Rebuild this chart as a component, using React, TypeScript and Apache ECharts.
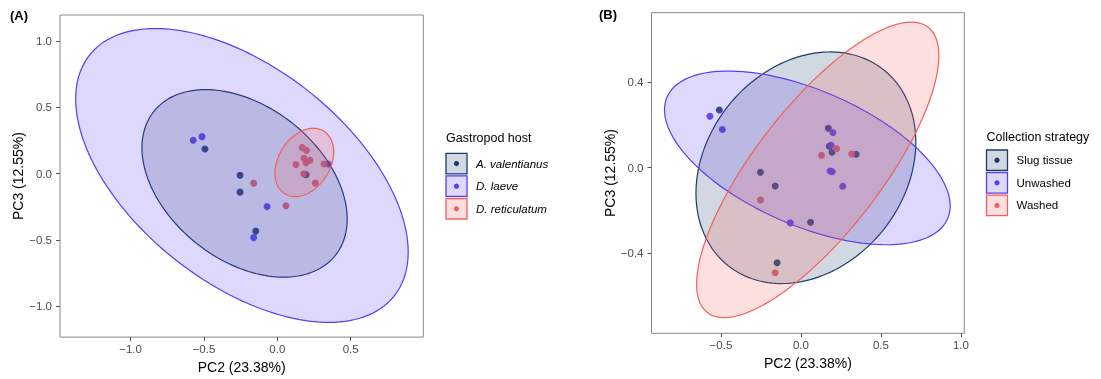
import React, { useEffect, useRef } from "react";
import * as echarts from "echarts";

const panelLabels = ["(A)", "(B)"];
const xTitle = "PC2 (23.38%)";
const yTitle = "PC3 (12.55%)";

const hostTitle = "Gastropod host";
const strategyTitle = "Collection strategy";
const hostGroups = ["A. valentianus", "D. laeve", "D. reticulatum"];
const strategyGroups = ["Slug tissue", "Unwashed", "Washed"];
const groupColors = ["#1B3A6B", "#5A3CF2", "#F2605C"];
const groupFills = ["rgba(27,58,107,0.2)", "rgba(90,60,242,0.2)", "rgba(242,96,92,0.2)"];

const hostTicksX = [-1.0, -0.5, 0.0, 0.5];
const hostTicksY = [-1.0, -0.5, 0.0, 0.5, 1.0];
const strategyTicksX = [-0.5, 0.0, 0.5, 1.0];
const strategyTicksY = [-0.4, 0.0, 0.4];

// Panel A points: [PC2, PC3]
const hostValentianus = [
  [-0.493, 0.186], [-0.254, -0.012], [-0.254, -0.14], [-0.147, -0.434], [0.196, -0.008],
];
const hostLaeve = [
  [-0.573, 0.252], [-0.513, 0.279], [-0.07, -0.249], [-0.161, -0.483], [0.348, 0.073],
];
const hostReticulatum = [
  [-0.161, -0.072], [0.059, -0.243], [0.127, 0.068], [0.17, 0.196], [0.2, 0.174],
  [0.182, 0.116], [0.196, 0.083], [0.223, 0.101], [0.18, -0.002], [0.259, -0.072], [0.318, 0.073],
];

// Panel B points: [PC2, PC3]
const strategySlug = [
  [-0.51, 0.268], [0.171, 0.183], [0.194, 0.071], [0.177, 0.099], [0.345, 0.062],
  [-0.253, -0.022], [-0.161, -0.086], [0.06, -0.255], [-0.149, -0.444],
];
const strategyUnwashed = [
  [-0.569, 0.239], [-0.491, 0.177], [0.2, 0.163], [0.188, 0.104], [0.182, -0.016],
  [0.196, -0.02], [0.261, -0.087], [-0.067, -0.258],
];
const strategyWashed = [
  [0.129, 0.057], [0.223, 0.088], [0.317, 0.063], [-0.253, -0.151], [-0.161, -0.491],
];

// Ellipses: [centerX, centerY, varX, varY, covXY, groupIndex]
const hostEllipses = [
  [-0.223, -0.074, 0.489, 0.501, -0.188, 0],
  [-0.241, -0.014, 1.284, 1.23, -0.655, 1],
  [0.184, 0.084, 0.04, 0.0666, 0.016, 2],
];
const strategyEllipses = [
  [0.031, -0.001, 0.472, 0.2916, 0.082, 0],
  [0.04, 0.045, 0.797, 0.164, -0.2, 1],
  [0.105, -0.011, 0.573, 0.4747, 0.403, 2],
];

const FONT = "Liberation Sans, Arial, Helvetica, sans-serif";
const fmt = (v: number) => v.toFixed(1).replace("-", "\u2212");

function ellipseRender(params: any, api: any) {
  const cx = api.value(0);
  const cy = api.value(1);
  const vx = api.value(2);
  const vy = api.value(3);
  const cxy = api.value(4);
  const gi = api.value(5);
  const a = Math.sqrt(vx);
  const c = cxy / a;
  const d = Math.sqrt(Math.max(vy - c * c, 0));
  const pts: number[][] = [];
  const n = 160;
  for (let i = 0; i < n; i++) {
    const t = (i / n) * Math.PI * 2;
    pts.push(api.coord([cx + a * Math.cos(t), cy + c * Math.cos(t) + d * Math.sin(t)]));
  }
  return {
    type: "polygon",
    shape: { points: pts },
    style: { fill: groupFills[gi], stroke: groupColors[gi], lineWidth: 1.2 },
  };
}

function makeAxis(kind: "x" | "y", idx: number, min: number, max: number, ticks: number[]) {
  return {
    type: "value",
    gridIndex: idx,
    min,
    max,
    axisLine: { show: false, onZero: false },
    splitLine: { show: false },
    axisTick: {
      show: true,
      customValues: ticks,
      length: 4,
      lineStyle: { color: "#555555", width: 1 },
    },
    axisLabel: {
      show: true,
      customValues: ticks,
      formatter: (v: number) => fmt(v),
      color: "#4D4D4D",
      fontSize: 11.5,
      fontFamily: FONT,
      margin: kind === "x" ? 6 : 8,
    },
    name: kind === "x" ? xTitle : yTitle,
    nameLocation: "middle",
    nameGap: kind === "x" ? 19 : 35,
    nameTextStyle: { color: "#000", fontSize: 14, fontFamily: FONT },
  };
}

function legendGraphic(title: string, labels: string[], x: number, titleY: number, keyY: number, italic: boolean) {
  const children: any[] = [
    {
      type: "text",
      x,
      y: titleY,
      style: { text: title, fontSize: 12.5, fontFamily: FONT, fill: "#000", textVerticalAlign: "middle" },
    },
  ];
  labels.forEach((lab, i) => {
    const y = keyY + i * 22.6;
    children.push({
      type: "rect",
      shape: { x, y, width: 21, height: 20.5 },
      style: { fill: groupFills[i], stroke: groupColors[i], lineWidth: 1.3 },
    });
    children.push({
      type: "circle",
      shape: { cx: x + 10.5, cy: y + 10.25, r: 2.6 },
      style: { fill: groupColors[i] },
    });
    children.push({
      type: "text",
      x: x + 30,
      y: y + 10.25,
      style: {
        text: lab,
        fontSize: 11.5,
        fontStyle: italic ? "italic" : "normal",
        fontFamily: FONT,
        fill: "#000",
        textVerticalAlign: "middle",
      },
    });
  });
  return { type: "group", children };
}

export default function App() {
  const ref = useRef<HTMLDivElement>(null);
  useEffect(() => {
    if (!ref.current) return;
    const chart = echarts.init(ref.current, null, { renderer: "svg" });
    const scatter = (name: string, data: number[][], gi: number, ai: number) => ({
      type: "scatter",
      name,
      xAxisIndex: ai,
      yAxisIndex: ai,
      data,
      symbolSize: 7,
      itemStyle: { color: groupColors[gi], opacity: 0.9 },
      z: 2,
    });
    const option: any = {
      animation: false,
      textStyle: { fontFamily: FONT },
      grid: [
        { left: 60, top: 15, width: 363.3, height: 322.3, show: true, borderColor: "#8A8A8A", borderWidth: 1, backgroundColor: "transparent" },
        { left: 651.5, top: 12.7, width: 312.8, height: 320.6, show: true, borderColor: "#8A8A8A", borderWidth: 1, backgroundColor: "transparent" },
      ],
      xAxis: [
        makeAxis("x", 0, -1.481, 0.995, hostTicksX),
        makeAxis("x", 1, -0.934, 1.021, strategyTicksX),
      ],
      yAxis: [
        makeAxis("y", 0, -1.234, 1.197, hostTicksY),
        { ...makeAxis("y", 1, -0.773, 0.722, strategyTicksY), nameGap: 33 },
      ],
      series: [
        scatter(hostGroups[0], hostValentianus, 0, 0),
        scatter(hostGroups[1], hostLaeve, 1, 0),
        scatter(hostGroups[2], hostReticulatum, 2, 0),
        scatter(strategyGroups[0], strategySlug, 0, 1),
        scatter(strategyGroups[1], strategyUnwashed, 1, 1),
        scatter(strategyGroups[2], strategyWashed, 2, 1),
        {
          type: "custom",
          name: "host ellipses",
          xAxisIndex: 0,
          yAxisIndex: 0,
          data: hostEllipses,
          encode: { x: 0, y: 1 },
          renderItem: ellipseRender,
          clip: true,
          silent: true,
          z: 3,
        },
        {
          type: "custom",
          name: "strategy ellipses",
          xAxisIndex: 1,
          yAxisIndex: 1,
          data: strategyEllipses,
          encode: { x: 0, y: 1 },
          renderItem: ellipseRender,
          clip: true,
          silent: true,
          z: 3,
        },
      ],
      graphic: [
        {
          type: "text",
          x: 10,
          y: 15.5,
          style: { text: panelLabels[0], fontSize: 13, fontWeight: "bold", fontFamily: FONT, fill: "#000", textVerticalAlign: "middle" },
        },
        {
          type: "text",
          x: 599,
          y: 14,
          style: { text: panelLabels[1], fontSize: 13, fontWeight: "bold", fontFamily: FONT, fill: "#000", textVerticalAlign: "middle" },
        },
        legendGraphic(hostTitle, hostGroups, 446, 138, 153.3, true),
        legendGraphic(strategyTitle, strategyGroups, 986.5, 136.5, 150, false),
      ],
    };
    chart.setOption(option);
    return () => chart.dispose();
  }, []);
  return <div ref={ref} style={{ position: "fixed", left: 0, top: 0, width: 1101, height: 379 }} />;
}
